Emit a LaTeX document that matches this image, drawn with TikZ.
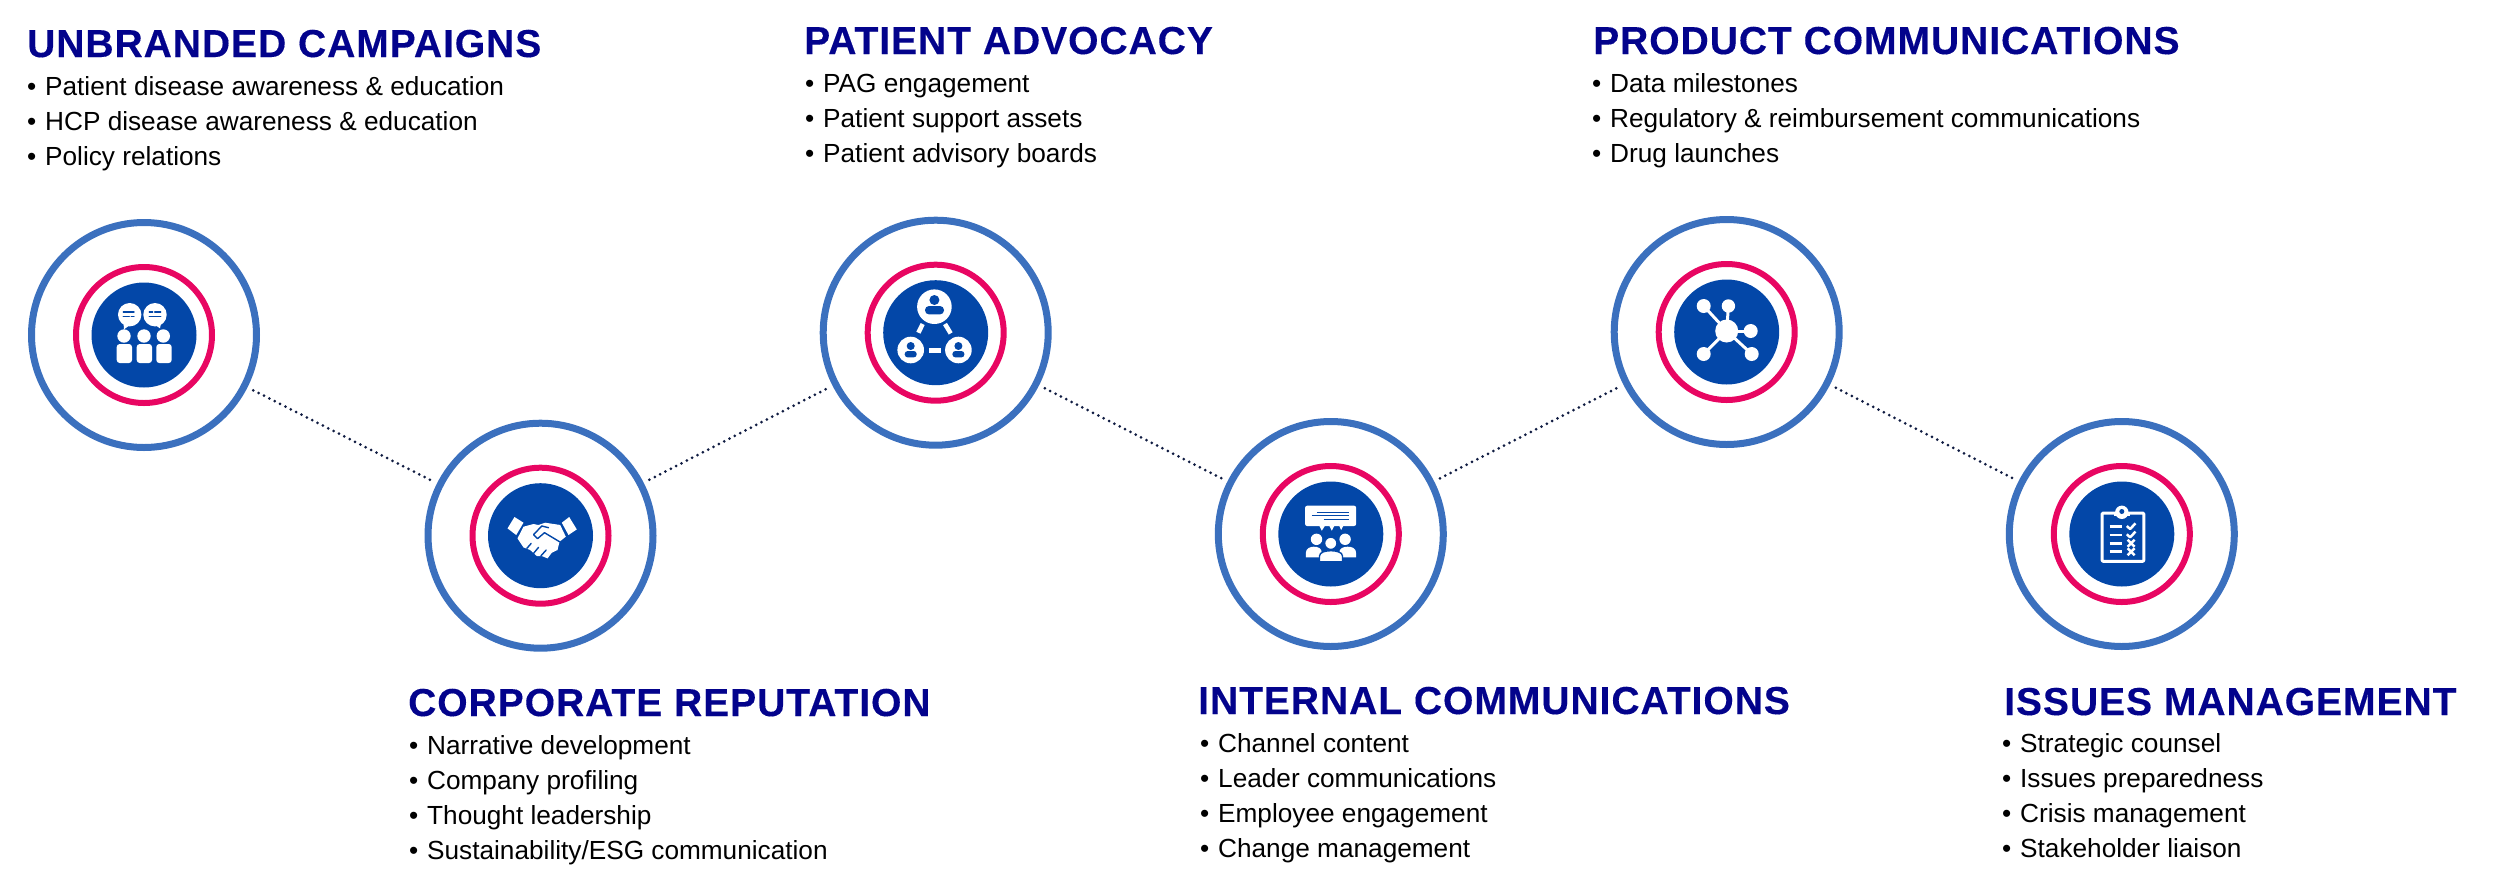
\documentclass[tikz,border=0pt]{standalone}
\usepackage{fontspec}
\setmainfont{Liberation Sans}
\newfontfamily\headfont[LetterSpace=2.5,FakeBold=0.25]{Liberation Sans}
\usepackage{xcolor}
\usepackage{tikz}
\definecolor{ringblue}{RGB}{59,112,190}
\definecolor{ringpink}{RGB}{232,6,98}
\definecolor{discblue}{RGB}{3,71,168}
\definecolor{headblue}{RGB}{3,3,140}
\definecolor{linknavy}{RGB}{16,28,66}
\newcommand{\itm}[1]{\makebox[18pt][l]{\textbullet}#1}
\tikzset{
	outerring/.style={circle,draw=ringblue,line width=7pt,minimum size=225pt,inner sep=0pt,outer sep=10pt},
	innerring/.style={circle,draw=ringpink,line width=6pt,minimum size=136pt,inner sep=0pt},
	disc/.style={circle,fill=discblue,minimum size=105pt,inner sep=0pt},
	link/.style={draw=linknavy,line width=3pt,line cap=round,dash pattern=on 0pt off 6pt},
	headtext/.style={anchor=base west,inner sep=0pt,text=headblue,font=\headfont\fontsize{39}{39}\selectfont\bfseries},
	listtext/.style={anchor=base west,inner sep=0pt,align=left,text=black,font=\fontsize{26.2}{35}\selectfont},
	iconfill/.style={fill=white,draw=none},
	iconline/.style={draw=white,line width=3pt,line cap=round},
	iconcut/.style={draw=discblue,line width=1.4pt}
}
\begin{document}
\begin{tikzpicture}[line cap=round,line join=round,x=1pt,y=-1pt]
	\useasboundingbox (0,0) rectangle (2500,884);
	% rings
	\node[outerring] (outer1) at (144,335) {};
	\node[innerring] (inner1) at (144,335) {};
	\node[disc] (disc1) at (144,335) {};
	\node[outerring] (outer2) at (540.5,535.7) {};
	\node[innerring] (inner2) at (540.5,535.7) {};
	\node[disc] (disc2) at (540.5,535.7) {};
	\node[outerring] (outer3) at (935.7,332.7) {};
	\node[innerring] (inner3) at (935.7,332.7) {};
	\node[disc] (disc3) at (935.7,332.7) {};
	\node[outerring] (outer4) at (1330.8,534) {};
	\node[innerring] (inner4) at (1330.8,534) {};
	\node[disc] (disc4) at (1330.8,534) {};
	\node[outerring] (outer5) at (1726.7,332) {};
	\node[innerring] (inner5) at (1726.7,332) {};
	\node[disc] (disc5) at (1726.7,332) {};
	\node[outerring] (outer6) at (2121.8,534) {};
	\node[innerring] (inner6) at (2121.8,534) {};
	\node[disc] (disc6) at (2121.8,534) {};
	% links
	\draw[link] (outer1) -- (outer2);
	\draw[link] (outer2) -- (outer3);
	\draw[link] (outer3) -- (outer4);
	\draw[link] (outer4) -- (outer5);
	\draw[link] (outer5) -- (outer6);
	% texts, a list is placed by its last line
	\node[headtext] (head1) at (27,57) {UNBRANDED CAMPAIGNS};
	\node[listtext] (list1) at (27,165) {\itm{Patient disease awareness \& education}\\\itm{HCP disease awareness \& education}\\\itm{Policy relations}};
	\node[headtext] (head2) at (408,716) {CORPORATE REPUTATION};
	\node[listtext] (list2) at (409,859) {\itm{Narrative development}\\\itm{Company profiling}\\\itm{Thought leadership}\\\itm{Sustainability/ESG communication}};
	\node[headtext] (head3) at (804,54) {PATIENT ADVOCACY};
	\node[listtext] (list3) at (805,162) {\itm{PAG engagement}\\\itm{Patient support assets}\\\itm{Patient advisory boards}};
	\node[headtext] (head4) at (1198,714) {INTERNAL COMMUNICATIONS};
	\node[listtext] (list4) at (1200,857) {\itm{Channel content}\\\itm{Leader communications}\\\itm{Employee engagement}\\\itm{Change management}};
	\node[headtext] (head5) at (1593,54) {PRODUCT COMMUNICATIONS};
	\node[listtext] (list5) at (1592,162) {\itm{Data milestones}\\\itm{Regulatory \& reimbursement communications}\\\itm{Drug launches}};
	\node[headtext] (head6) at (2004,715) {ISSUES MANAGEMENT};
	\node[listtext] (list6) at (2002,857) {\itm{Strategic counsel}\\\itm{Issues preparedness}\\\itm{Crisis management}\\\itm{Stakeholder liaison}};
	% people with speech bubbles
	\begin{scope}[shift={(disc1.center)}]
		\fill[iconfill] (-14.3,-20.3) circle (11.7);
		\fill[iconfill] (11,-20.3) circle (11.7);
		\fill[iconfill] (-20.7,-15) -- (-20,-5.7) -- (-14,-10) -- cycle;
		\fill[iconfill] (11,-10) -- (16,-6.7) -- (17.7,-15) -- cycle;
		\draw[iconcut] (-20.7,-23) -- (-10,-23);
		\draw[iconcut] (-20.7,-18.3) -- (-14.7,-18.3);
		\draw[iconcut] (-12.7,-18.3) -- (-10,-18.3);
		\draw[iconcut] (5.3,-23) -- (8.7,-23);
		\draw[iconcut] (10.7,-23) -- (16.7,-23);
		\draw[iconcut] (5.3,-18.3) -- (16.7,-18.3);
		\fill[iconfill] (-20,1) circle (6.7);
		\fill[iconfill] (0,1) circle (6.7);
		\fill[iconfill] (19.3,1) circle (6.7);
		\fill[iconfill,rounded corners=3pt] (-27.3,28) -- (-27.3,9) -- (-12,9) -- (-12,28) -- cycle;
		\fill[iconfill,rounded corners=3pt] (-7.3,28) -- (-7.3,9) -- (8,9) -- (8,28) -- cycle;
		\fill[iconfill,rounded corners=3pt] (12.3,28) -- (12.3,9) -- (27.7,9) -- (27.7,28) -- cycle;
	\end{scope}
	% handshake
	\begin{scope}[shift={(disc2.center)}]
		\fill[iconfill] (-33,-7.3) -- (-26,-18.7) -- (-17,-13) -- (-24.3,-0.7) -- cycle;
		\fill[iconfill] (21.3,-13) -- (28.7,-18.7) -- (36.3,-6.3) -- (28,-0.7) -- cycle;
		\fill[iconfill] (-17,-9) -- (-7,-11.7) -- (-2,-10.7) -- (4.7,-13) -- (19.7,-10.7) -- (25.3,1) -- (19,6) -- (17,14.3) -- (11.3,17) -- (7,22.7) -- (1.3,20.3) -- (-3.7,20.3) -- (-10.3,14.3) -- (-17,11.7) -- (-23,2.7) -- cycle;
		\draw[iconcut] (1.3,-9.7) -- (-7,-1) -- (-3,3) -- (4,-3) -- (19,6);
		\draw[iconcut] (1.3,-9.7) -- (8,-8);
		\draw[iconcut] (-13.7,12.7) -- (-9.3,7.7);
		\draw[iconcut] (-7,17.7) -- (-2,11.7);
		\draw[iconcut] (0.3,20.3) -- (5.7,14.3);
	\end{scope}
	% three connected people
	\begin{scope}[shift={(disc3.center)}]
		\fill[iconfill] (-1.3,-26) circle (17.3);
		\fill[iconfill] (-25,17.3) circle (13.3);
		\fill[iconfill] (22.7,17.3) circle (13.3);
		\fill[discblue] (-1.3,-32.7) circle (5);
		\fill[discblue,rounded corners=4pt] (-10.7,-18.3) -- (-10.7,-26.7) -- (8.3,-26.7) -- (8.3,-18.3) -- cycle;
		\fill[discblue] (-25,13.3) circle (4);
		\fill[discblue,rounded corners=3pt] (-31,24.7) -- (-31,18.3) -- (-19,18.3) -- (-19,24.7) -- cycle;
		\fill[discblue] (22.7,13.3) circle (4);
		\fill[discblue,rounded corners=3pt] (16.7,24.7) -- (16.7,18.3) -- (28.7,18.3) -- (28.7,24.7) -- cycle;
		\draw[iconline,line width=4.5pt,line cap=butt] (-13,-8.7) -- (-17.3,0);
		\draw[iconline,line width=4.5pt,line cap=butt] (9.3,-8.7) -- (15,0.7);
		\draw[iconline,line width=4.5pt,line cap=butt] (-6.3,18) -- (5,18);
	\end{scope}
	% speech box over people
	\begin{scope}[shift={(disc4.center)}]
		\fill[iconfill,rounded corners=2pt] (-25.7,-28.3) rectangle (25.3,-8);
		\fill[iconfill] (-11.7,-8.5) -- (-9,-3.3) -- (-5.7,-8.5) -- cycle;
		\fill[iconfill] (-1.7,-8.5) -- (1,-3.3) -- (3.7,-8.5) -- cycle;
		\fill[iconfill] (8.3,-8.5) -- (10.3,-4) -- (12.7,-8.5) -- cycle;
		\draw[iconcut,line cap=butt] (-14,-21.7) -- (18.3,-21.7);
		\draw[iconcut,line cap=butt] (-19,-18.3) -- (18.3,-18.3);
		\draw[iconcut,line cap=butt] (-7.3,-14.7) -- (18.3,-14.7);
		\fill[iconfill] (-14.3,5.3) circle (5.7);
		\fill[iconfill] (14.3,5.3) circle (5.7);
		\fill[iconfill] (-25,23.3) -- (-25,19) .. controls (-25,14) and (-20,12.7) .. (-17,12.7) .. controls (-13,12.7) and (-9,14) .. (-9,19) -- (-9,23.3) -- cycle;
		\fill[iconfill] (8.3,23.3) -- (8.3,19) .. controls (8.3,14) and (13,12.7) .. (16.8,12.7) .. controls (21,12.7) and (25.3,14) .. (25.3,19) -- (25.3,23.3) -- cycle;
		\fill[iconfill,draw=discblue,line width=1.4pt] (-11.3,27.7) -- (-11.3,22) .. controls (-11.3,18) and (-5,16.7) .. (0.2,16.7) .. controls (5,16.7) and (11.7,18) .. (11.7,22) -- (11.7,27.7) -- cycle;
		\fill[iconfill,draw=discblue,line width=1.4pt] (0,9.3) circle (6.2);
	\end{scope}
	% network hub
	\begin{scope}[shift={(disc5.center)}]
		\draw[iconline] (0,-1) -- (-23,-26);
		\draw[iconline] (0,-1) -- (1.7,-26);
		\draw[iconline] (0,-1) -- (24,-1);
		\draw[iconline] (0,-1) -- (25,22);
		\draw[iconline] (0,-1) -- (-23,22);
		\fill[iconfill] (0,-1) circle (11.5);
		\fill[iconfill] (-23,-26) circle (7);
		\fill[iconfill] (1.7,-26) circle (6.7);
		\fill[iconfill] (24,-1) circle (7);
		\fill[iconfill] (25,22) circle (7);
		\fill[iconfill] (-23,22) circle (7);
	\end{scope}
	% checklist
	\begin{scope}[shift={(disc6.center)}]
		\draw[iconline,rounded corners=1pt] (-19.7,-21) rectangle (22,27.3);
		\fill[iconfill] (-8.3,-18) rectangle (8.3,-22.3);
		\fill[iconfill] (0,-21.7) circle (6.7);
		\fill[discblue] (0,-22.5) circle (2.5);
		\draw[iconline,line width=2.5pt,line cap=butt] (-12.3,-7.3) -- (0,-7.3);
		\draw[iconline,line width=2.5pt,line cap=butt] (-12.3,1) -- (0,1);
		\draw[iconline,line width=2.5pt,line cap=butt] (-12.3,9.3) -- (0,9.3);
		\draw[iconline,line width=2.5pt,line cap=butt] (-12.3,17.7) -- (0,17.7);
		\draw[iconline,line width=2.5pt,line cap=butt] (5,-8) -- (8.3,-5) -- (13.7,-10.7);
		\draw[iconline,line width=2.5pt,line cap=butt] (5,0.3) -- (8.3,3.3) -- (13.7,-2.4);
		\draw[iconline,line width=2.5pt,line cap=butt] (5.8,5.8) -- (12.8,12.8);
		\draw[iconline,line width=2.5pt,line cap=butt] (12.8,5.8) -- (5.8,12.8);
		\draw[iconline,line width=2.5pt,line cap=butt] (5.8,14.2) -- (12.8,21.2);
		\draw[iconline,line width=2.5pt,line cap=butt] (12.8,14.2) -- (5.8,21.2);
	\end{scope}
\end{tikzpicture}
\end{document}
